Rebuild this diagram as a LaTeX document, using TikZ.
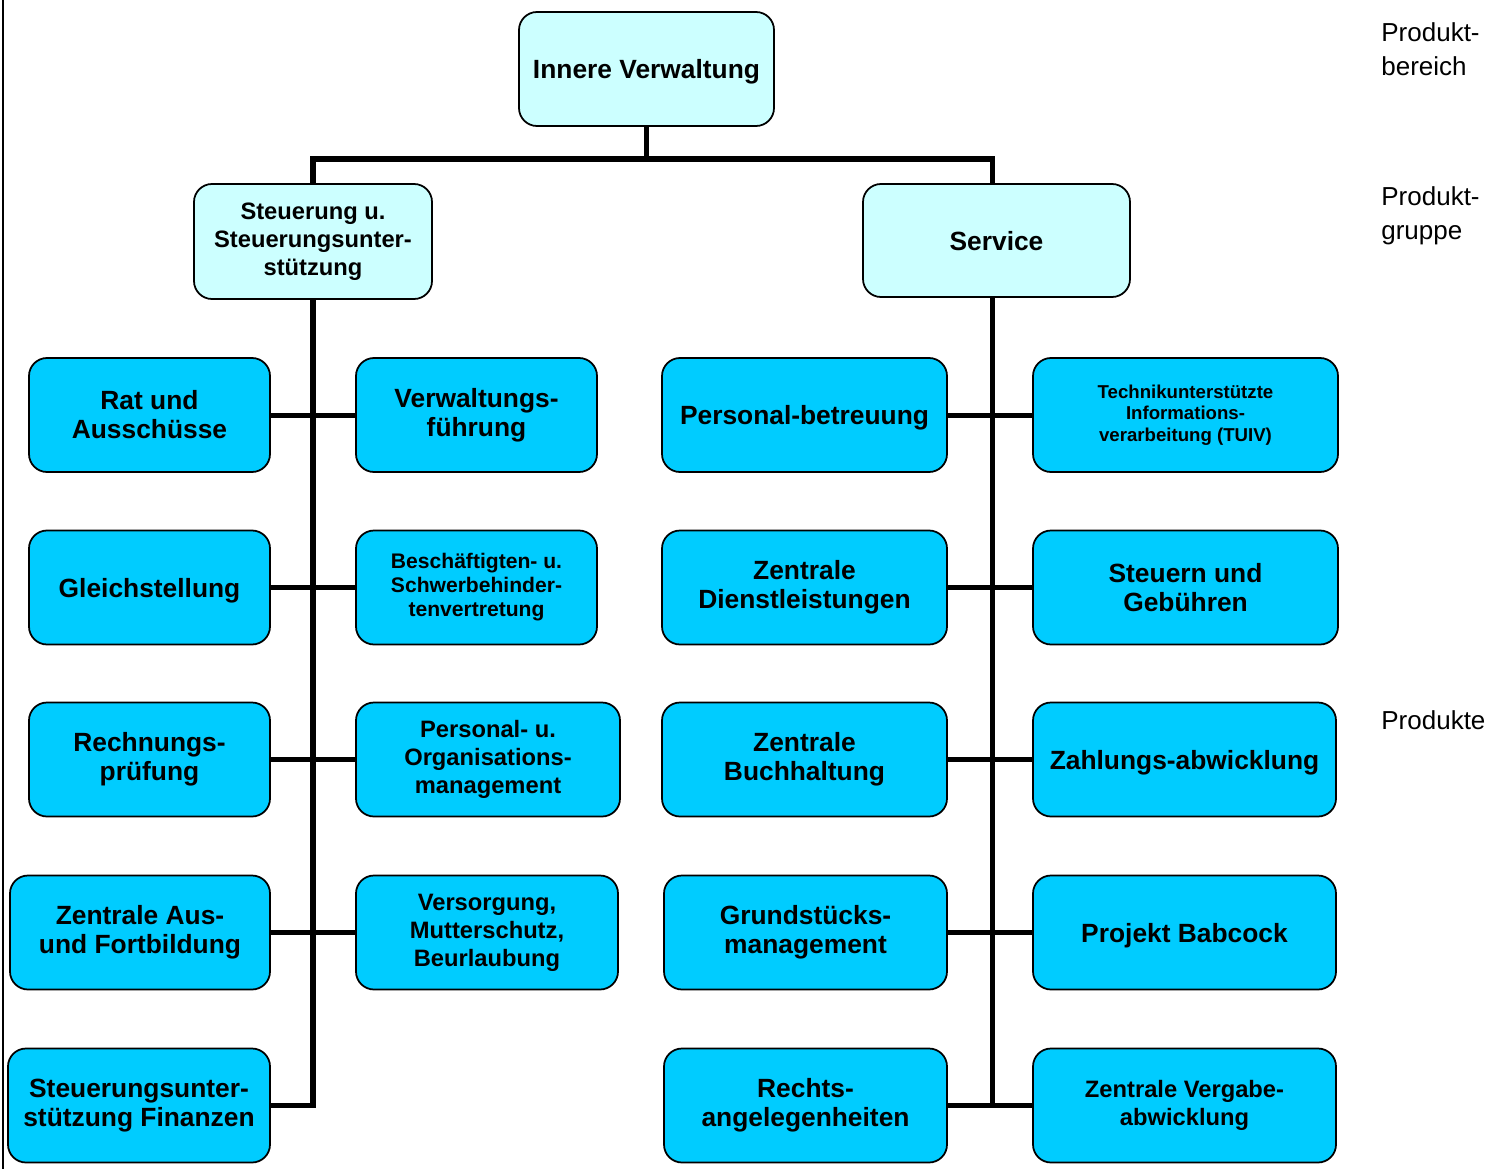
\documentclass[tikz,border=0pt]{standalone}
\usepackage{fontspec}
\setmainfont{Liberation Sans}
\usepackage{tikz}
\usetikzlibrary{positioning, calc}
\definecolor{cyanHell}{RGB}{204, 255, 255}
\definecolor{cyanProdukt}{RGB}{0, 204, 255}
\begin{document}
\begin{tikzpicture}[
  gruppe/.style={rectangle, rounded corners=0.36cm, draw=black,
    fill=cyanHell, line width=1pt, minimum height=2.28cm,
    align=center, inner sep=0pt, font=\bfseries\fontsize{15}{16.5}\selectfont},
  produkt/.style={gruppe, fill=cyanProdukt},
  zeile/.style={text depth=0pt},
  mittel/.style={font=\bfseries\fontsize{13.5}{15.9}\selectfont},
  klein/.style={font=\bfseries\fontsize{12}{13.7}\selectfont},
  winzig/.style={font=\bfseries\fontsize{10.6}{12.2}\selectfont},
  ebene/.style={anchor=base west, inner sep=0pt, align=left,
    font=\fontsize{14.8}{18.8}\selectfont},
  ast/.style={line width=2.85pt},
]
\useasboundingbox (0,0) rectangle (30.02,-23.38);
\draw[line width=1.1pt] (0.06,0) -- (0.06,-23.38);
% Produktbereich und Produktgruppen
\node[gruppe, zeile, minimum width=5.10cm] (iv)   at (12.93,-1.38) {Innere Verwaltung};
\node[gruppe, mittel, minimum width=4.76cm, minimum height=2.30cm] (steu) at (6.26,-4.83)
  {Steuerung u.\\Steuerungsunter-\\stützung};
\node[gruppe, zeile, minimum width=5.34cm, minimum height=2.26cm] (serv) at (19.93,-4.81) {Service};
\coordinate (bus) at (12.93,-3.18);
% Produkte links
\node[produkt, minimum width=4.82cm] (rat)     at (2.99,-8.30)  {Rat und\\Ausschüsse};
\node[produkt, zeile, minimum width=4.82cm] (gleich)  at (2.99,-11.75) {Gleichstellung};
\node[produkt, minimum width=4.82cm] (rechn)   at (2.99,-15.19) {Rechnungs-\\prüfung};
\node[produkt, minimum width=5.20cm] (ausbild) at (2.80,-18.65) {Zentrale Aus-\\und Fortbildung};
\node[produkt, minimum width=5.24cm] (finanz)  at (2.78,-22.11) {Steuerungsunter-\\stützung Finanzen};
\node[produkt, minimum width=4.82cm] (verw)    at (9.53,-8.30)  {Verwaltungs-\\führung};
\node[produkt, klein, minimum width=4.82cm] (beschaeft) at (9.53,-11.75)
  {Beschäftigten- u.\\Schwerbehinder-\\tenvertretung};
\node[produkt, mittel, minimum width=5.28cm] (orga)  at (9.76,-15.19)
  {Personal- u.\\Organisations-\\management};
\node[produkt, mittel, minimum width=5.24cm] (versorg) at (9.74,-18.65)
  {Versorgung,\\Mutterschutz,\\Beurlaubung};
% Produkte rechts
\node[produkt, zeile, minimum width=5.70cm] (personal) at (16.09,-8.30)  {Personal-betreuung};
\node[produkt, minimum width=5.70cm] (dienst)   at (16.09,-11.75) {Zentrale\\Dienstleistungen};
\node[produkt, minimum width=5.70cm] (buchh)    at (16.09,-15.19) {Zentrale\\Buchhaltung};
\node[produkt, minimum width=5.66cm] (grund)    at (16.11,-18.65) {Grundstücks-\\management};
\node[produkt, minimum width=5.66cm] (recht)    at (16.11,-22.11) {Rechts-\\angelegenheiten};
\node[produkt, winzig, minimum width=6.10cm] (tuiv) at (23.71,-8.30)
  {Technikunterstützte\\Informations-\\verarbeitung (TUIV)};
\node[produkt, minimum width=6.10cm] (steuern)  at (23.71,-11.75) {Steuern und\\Gebühren};
\node[produkt, zeile, minimum width=6.06cm] (zahlung)  at (23.69,-15.19) {Zahlungs-abwicklung};
\node[produkt, zeile, minimum width=6.06cm] (babcock)  at (23.69,-18.65) {Projekt Babcock};
\node[produkt, mittel, minimum width=6.06cm] (vergabe) at (23.69,-22.11)
  {Zentrale Vergabe-\\abwicklung};
% Ebenen
\node[ebene] (bereich) at (27.62,-1.50)  {Produkt-\\bereich};
\node[ebene] (gruppe)  at (27.62,-4.78)  {Produkt-\\gruppe};
\node[ebene] (prod)    at (27.62,-14.58) {Produkte};
% Linien
\draw[ast] (iv.south) -- (iv.south |- bus);
\draw[ast] (steu.north) -- (steu.north |- bus) -- ($(serv.north |- bus)+(-0.09,0)$) -- ($(serv.north)+(-0.09,0)$);
\draw[ast] (steu.south) -- (steu.south |- finanz.east) -- (finanz.east);
\draw[ast] ($(serv.south)+(-0.09,0)$) -- ($(serv.south |- recht.east)+(-0.09,0)$);
\draw[ast] (rat.east)     -- (verw.west);
\draw[ast] (gleich.east)  -- (beschaeft.west);
\draw[ast] (rechn.east)   -- (orga.west);
\draw[ast] (ausbild.east) -- (versorg.west);
\draw[ast] (personal.east) -- (tuiv.west);
\draw[ast] (dienst.east)   -- (steuern.west);
\draw[ast] (buchh.east)    -- (zahlung.west);
\draw[ast] (grund.east)    -- (babcock.west);
\draw[ast] (recht.east)    -- (vergabe.west);
\end{tikzpicture}
\end{document}
